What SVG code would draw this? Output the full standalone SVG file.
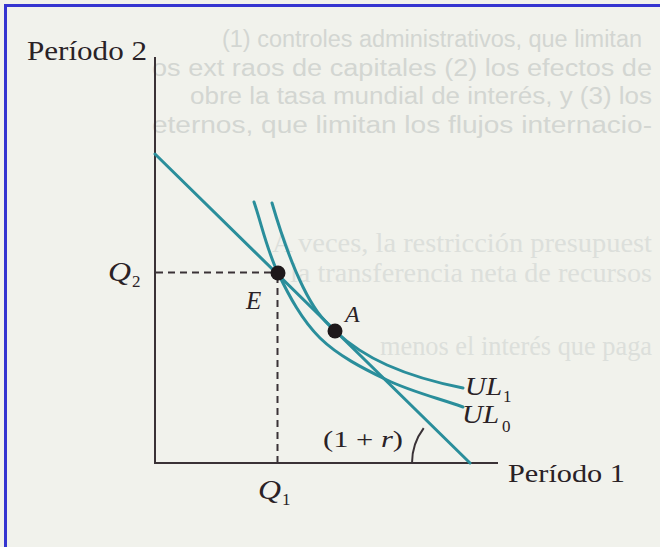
<svg xmlns="http://www.w3.org/2000/svg" width="660" height="547" viewBox="0 0 660 547">
<style>
.bg{fill:#f1f2ec}
.ghost{font-family:"Liberation Sans","DejaVu Sans",Arial,sans-serif;font-size:23px;fill:#d3d6d2}
.ghost2{font-family:"Liberation Serif","DejaVu Serif",serif;font-size:27px;fill:#dcdfdb}
.lbl{font-family:"Liberation Serif","Times New Roman",serif;fill:#2a2226}
.it{font-style:italic}
.axis{stroke:#3a3236;stroke-width:2;fill:none}
.dash{stroke:#3a3236;stroke-width:2;stroke-dasharray:7 5;fill:none}
.curve{stroke:#2a8e9b;stroke-width:3;fill:none;stroke-linecap:round}
.dot{fill:#1e181a}
</style>
<rect class="bg" width="660" height="547"/>
<g id="show-through">
<text class="ghost" x="222" y="47" textLength="420" lengthAdjust="spacingAndGlyphs">(1) controles administrativos, que limitan</text>
<text class="ghost" x="152" y="76" textLength="500" lengthAdjust="spacingAndGlyphs">os ext raos de capitales (2) los efectos de</text>
<text class="ghost" x="190" y="104" textLength="462" lengthAdjust="spacingAndGlyphs">obre la tasa mundial de interés, y (3) los</text>
<text class="ghost" x="152" y="133" textLength="500" lengthAdjust="spacingAndGlyphs">eternos, que limitan los flujos internacio-</text>
<text class="ghost2" x="272" y="252" textLength="380" lengthAdjust="spacingAndGlyphs">A veces, la restricción presupuest</text>
<text class="ghost2" x="290" y="282" textLength="362" lengthAdjust="spacingAndGlyphs">la transferencia neta de recursos</text>
<text class="ghost2" x="380" y="355" textLength="272" lengthAdjust="spacingAndGlyphs">menos el interés que paga</text>
</g>
<path d="M5.5,547 V5.5 H660" stroke="#3535d0" stroke-width="3" fill="none"/>
<g id="axes">
<path class="axis" d="M155,57 V463 H498"/>
</g>
<g id="connectors">
<path class="dash" d="M156,272.5 H276"/>
<path class="dash" d="M277.5,276 V462"/>
<path id="budget-line" class="curve" d="M155,154 L470,463"/>
<path id="UL0-curve" class="curve" d="M254,202 C262,225.7 267,250.3 278,273 C289,295.7 301.8,320.2 320,338 C338.2,355.8 363.2,368.5 387,380 C410.8,391.5 437.7,398 463,407"/>
<path id="UL1-curve" class="curve" d="M272,203 C280.3,231.3 292.5,265.7 303,287 C313.5,308.3 321,318 335,331 C349,344 365.7,355.5 387,365 C408.3,374.5 437.7,383 463,388"/>
<path id="angle-arc" class="axis" stroke-width="1.6" d="M412,463 A58,58 0 0 1 423.7,428.1"/>
</g>
<g id="E">
<circle class="dot" cx="278" cy="273" r="7.5"/>
<text class="lbl it" x="246" y="309" font-size="25">E</text>
</g>
<g id="A">
<circle class="dot" cx="335" cy="331" r="7.5"/>
<text class="lbl it" x="345" y="322" font-size="24">A</text>
</g>
<g id="labels">
<text class="lbl" x="27" y="60" font-size="27" textLength="120" lengthAdjust="spacingAndGlyphs">Período 2</text>
<text class="lbl" x="508" y="482" font-size="26" textLength="117" lengthAdjust="spacingAndGlyphs">Período 1</text>
<text class="lbl it" x="108" y="281" font-size="27" textLength="23" lengthAdjust="spacingAndGlyphs">Q</text>
<text class="lbl" x="132" y="287" font-size="17">2</text>
<text class="lbl it" x="258" y="499" font-size="27" textLength="23" lengthAdjust="spacingAndGlyphs">Q</text>
<text class="lbl" x="282" y="505" font-size="17">1</text>
<text class="lbl" x="323" y="447" font-size="24" textLength="80" lengthAdjust="spacingAndGlyphs">(1 + <tspan class="it">r</tspan>)</text>
<text class="lbl it" x="465" y="395" font-size="25" textLength="37" lengthAdjust="spacingAndGlyphs">UL</text>
<text class="lbl" x="503" y="402" font-size="17">1</text>
<text class="lbl it" x="462" y="423" font-size="25" textLength="37" lengthAdjust="spacingAndGlyphs">UL</text>
<text class="lbl" x="502" y="432" font-size="17">0</text>
</g>
</svg>
